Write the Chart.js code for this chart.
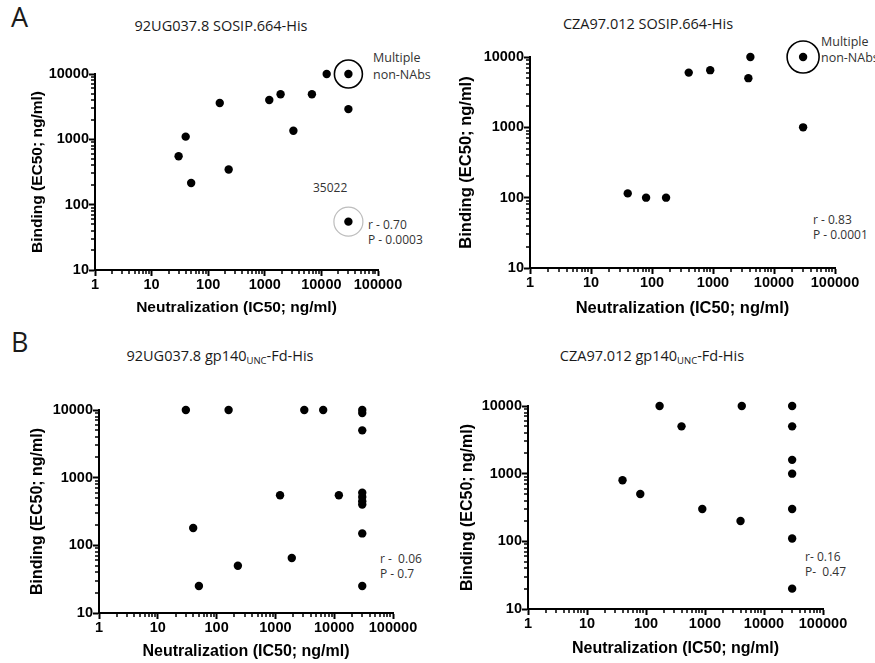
<!DOCTYPE html>
<html>
<head>
<meta charset="utf-8">
<script src="https://cdn.jsdelivr.net/npm/chart.js@4.4.1/dist/chart.umd.min.js"></script>
<style>
  body { margin: 0; width: 875px; height: 663px; overflow: hidden; background: #fff; position: relative; font-family: "Open Sans", sans-serif; color: #1a1a1a; }
  canvas { position: absolute; }
  .t { position: absolute; white-space: nowrap; }
  .letter { font-size: 27px; line-height: 1; }
  .ttl { font-size: 14.5px; transform: translate(-50%, -50%); }
  .note { font-size: 12px; line-height: 15px; color: #333; }
  sub { font-size: 9.5px; vertical-align: -3px; line-height: 0; }
</style>
</head>
<body>
<div class="t letter" style="left:11px;top:3px">A</div>
<div class="t letter" style="left:11px;top:328px">B</div>

<div class="t ttl" style="left:221px;top:25px">92UG037.8 SOSIP.664-His</div>
<div class="t ttl" style="left:648px;top:23px">CZA97.012 SOSIP.664-His</div>
<div class="t ttl" style="left:220px;top:355px">92UG037.8 gp140<sub>UNC</sub>-Fd-His</div>
<div class="t ttl" style="left:652px;top:355px">CZA97.012 gp140<sub>UNC</sub>-Fd-His</div>

<div class="t note" style="left:373px;top:50px;line-height:16.5px;font-size:12.5px">Multiple<br>non-NAbs</div>
<div class="t note" style="left:313px;top:180px">35022</div>
<div class="t note" style="left:368px;top:218px;line-height:14.5px">r - 0.70<br>P - 0.0003</div>

<div class="t note" style="left:821px;top:34px;line-height:15.5px;font-size:12.5px">Multiple<br>non-NAbs</div>
<div class="t note" style="left:813px;top:212px">r - 0.83<br>P - 0.0001</div>

<div class="t note" style="left:380px;top:551px">r -&nbsp; 0.06<br>P - 0.7</div>
<div class="t note" style="left:805px;top:549px">r- 0.16<br>P-&nbsp; 0.47</div>

<script>
// tick labels
const xTicks = [1, 10, 100, 1000, 10000, 100000];
const yTicks = [10, 100, 1000, 10000];

// A: 92UG037.8 SOSIP.664-His
const ugSosipX = [30, 40, 50, 160, 230, 1200, 1900, 3200, 6800, 12400, 30000, 30000, 30000];
const ugSosipY = [550, 1100, 215, 3600, 345, 4000, 4900, 1350, 4900, 10000, 10000, 2900, 55];

// A: CZA97.012 SOSIP.664-His
const czaSosipX = [40, 80, 170, 400, 900, 3800, 4100, 30000, 30000];
const czaSosipY = [115, 100, 100, 6000, 6500, 5000, 10000, 10000, 1000];

// B: 92UG037.8 gp140UNC-Fd-His
const ugGpX = [30, 160, 3100, 6500, 40, 50, 230, 1200, 1900, 12000,
  30000, 30000, 30000, 30000, 30000, 30000, 30000, 30000, 30000];
const ugGpY = [10000, 10000, 10000, 10000, 180, 25, 50, 550, 65, 550,
  10000, 9000, 5000, 600, 520, 450, 400, 150, 25];

// B: CZA97.012 gp140UNC-Fd-His
const czaGpX = [40, 80, 170, 400, 900, 4000, 4200, 30000, 30000, 30000, 30000, 30000, 30000, 30000];
const czaGpY = [800, 500, 10000, 5000, 300, 200, 10000, 10000, 5000, 1600, 1000, 300, 110, 20];

// highlighted points (circled)
const ugSosipRings = [{x: 30000, y: 10000, r: 14, color: '#000', w: 1.6}, {x: 30000, y: 55, r: 14.5, color: '#bdbdbd', w: 1.2}];
const czaSosipRings = [{x: 30000, y: 10000, r: 16, color: '#000', w: 1.6}];

// small log ticks (2..9 of each decade), GraphPad style
const minorTicks = {
  id: 'minorTicks',
  afterDraw(chart) {
    const {ctx, chartArea} = chart;
    const x = chart.scales.x, y = chart.scales.y;
    ctx.save();
    ctx.strokeStyle = '#000';
    ctx.lineWidth = 1.5;
    ctx.beginPath();
    for (let d = 0; d < 5; d++) {
      for (let k = 2; k <= 9; k++) {
        const v = k * Math.pow(10, d);
        if (v > x.min && v < x.max) {
          const px = Math.round(x.getPixelForValue(v));
          ctx.moveTo(px, chartArea.bottom);
          ctx.lineTo(px, chartArea.bottom + 4);
        }
        if (v > y.min && v < y.max) {
          const py = Math.round(y.getPixelForValue(v));
          ctx.moveTo(chartArea.left, py);
          ctx.lineTo(chartArea.left - 4, py);
        }
      }
    }
    ctx.stroke();
    ctx.restore();
  }
};

function panel(p) {
  const cv = document.createElement('canvas');
  cv.width = p.w;
  cv.height = p.h;
  cv.style.left = p.left + 'px';
  cv.style.top = p.top + 'px';
  document.body.appendChild(cv);

  const family = '"Liberation Sans", Arial, sans-serif';
  const tickFont = {family, weight: 'bold', size: 14.5};
  const titleFont = {family, weight: 'bold', size: p.fs, lineHeight: 1.2};

  const datasets = [{
    data: p.xs.map((x, i) => ({x, y: p.ys[i]})),
    pointRadius: 4.2,
    pointBackgroundColor: '#000',
    pointBorderWidth: 0,
    clip: false
  }];
  (p.rings || []).forEach(r => datasets.push({
    data: [{x: r.x, y: r.y}],
    pointRadius: r.r,
    pointBackgroundColor: 'rgba(0,0,0,0)',
    pointBorderColor: r.color,
    pointBorderWidth: r.w,
    clip: false
  }));

  new Chart(cv, {
    type: 'scatter',
    data: {datasets},
    options: {
      responsive: false,
      animation: false,
      events: [],
      layout: {padding: {top: 20, right: 30, left: 0, bottom: 0}},
      plugins: {legend: {display: false}, tooltip: {enabled: false}},
      scales: {
        x: {
          type: 'logarithmic', position: 'bottom', min: 1, max: 100000,
          afterFit: s => { s.height = p.xH; },
          afterBuildTicks: s => { s.ticks = xTicks.map(v => ({value: v})); },
          ticks: {autoSkip: false, maxRotation: 0, color: '#000', font: tickFont, padding: 0, callback: v => String(v)},
          grid: {drawOnChartArea: false, drawTicks: true, tickLength: 6, tickColor: '#000', tickWidth: 2},
          border: {color: '#000', width: 2},
          title: {display: true, text: 'Neutralization (IC50; ng/ml)', color: '#000', font: titleFont, padding: 0}
        },
        y: {
          type: 'logarithmic', position: 'left', min: 10, max: 10000,
          afterFit: s => { s.width = p.yW; },
          afterBuildTicks: s => { s.ticks = yTicks.map(v => ({value: v})); },
          ticks: {autoSkip: false, color: '#000', font: tickFont, padding: 0, callback: v => String(v)},
          grid: {drawOnChartArea: false, drawTicks: true, tickLength: 6, tickColor: '#000', tickWidth: 2},
          border: {color: '#000', width: 2},
          title: {display: true, text: 'Binding (EC50; ng/ml)', color: '#000', font: titleFont, padding: 0}
        }
      }
    },
    plugins: [minorTicks]
  });
}

panel({left: 28, top: 54, w: 380, h: 263, yW: 67, xH: 47, fs: 15.5, xs: ugSosipX, ys: ugSosipY, rings: ugSosipRings});
panel({left: 457, top: 37, w: 408, h: 281, yW: 73, xH: 50, fs: 16.5, xs: czaSosipX, ys: czaSosipY, rings: czaSosipRings});
panel({left: 28, top: 390, w: 395, h: 271, yW: 71, xH: 48, fs: 16, xs: ugGpX, ys: ugGpY});
panel({left: 458, top: 386, w: 395, h: 272, yW: 70, xH: 49, fs: 16, xs: czaGpX, ys: czaGpY});
</script>
</body>
</html>
